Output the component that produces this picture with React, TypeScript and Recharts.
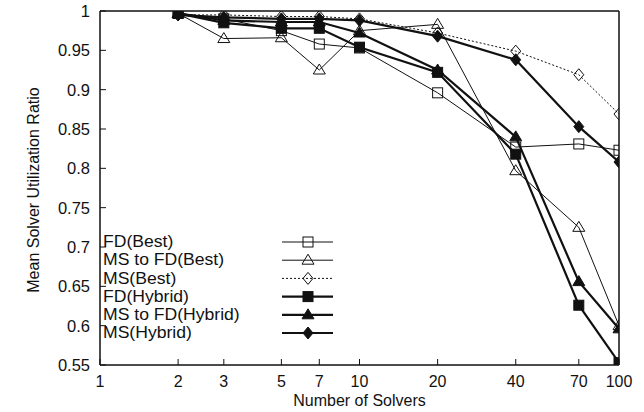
import React from 'react';
import { LineChart, Line, XAxis, YAxis, ReferenceArea } from 'recharts';

// ---- data ----
const solvers = [2, 3, 5, 7, 10, 20, 40, 70, 100];
const fdBest = [0.997, 0.99, 0.975, 0.958, 0.953, 0.896, 0.827, 0.831, 0.823];
const msToFdBest = [0.997, 0.965, 0.966, 0.925, 0.975, 0.983, 0.797, 0.725, 0.6];
const msBest = [0.995, 0.995, 0.993, 0.993, 0.99, 0.972, 0.949, 0.919, 0.869];
const fdHybrid = [0.997, 0.985, 0.978, 0.978, 0.954, 0.922, 0.818, 0.626, 0.553];
const msToFdHybrid = [0.997, 0.988, 0.986, 0.986, 0.972, 0.925, 0.84, 0.656, 0.596];
const msHybrid = [0.995, 0.992, 0.99, 0.99, 0.988, 0.968, 0.938, 0.853, 0.808];

const xTicks = [1, 2, 3, 5, 7, 10, 20, 40, 70, 100];
const yTicks = [0.55, 0.6, 0.65, 0.7, 0.75, 0.8, 0.85, 0.9, 0.95, 1];

const seriesNames = [
  'FD(Best)',
  'MS to FD(Best)',
  'MS(Best)',
  'FD(Hybrid)',
  'MS to FD(Hybrid)',
  'MS(Hybrid)',
];

const data = solvers.map((n, i) => ({
  n,
  fdBest: fdBest[i],
  msToFdBest: msToFdBest[i],
  msBest: msBest[i],
  fdHybrid: fdHybrid[i],
  msToFdHybrid: msToFdHybrid[i],
  msHybrid: msHybrid[i],
}));

const INK = '#111';

const series = [
  { key: 'fdBest', name: seriesNames[0], shape: 'square', filled: false, width: 1, dash: undefined as string | undefined },
  { key: 'msToFdBest', name: seriesNames[1], shape: 'triangle', filled: false, width: 1, dash: undefined },
  { key: 'msBest', name: seriesNames[2], shape: 'diamond', filled: false, width: 1, dash: '2 2' },
  { key: 'fdHybrid', name: seriesNames[3], shape: 'square', filled: true, width: 2.2, dash: undefined },
  { key: 'msToFdHybrid', name: seriesNames[4], shape: 'triangle', filled: true, width: 2.2, dash: undefined },
  { key: 'msHybrid', name: seriesNames[5], shape: 'diamond', filled: true, width: 2.2, dash: undefined },
];

function marker(shape: string, filled: boolean, cx: number, cy: number, key?: string) {
  const s = 5;
  const common = { stroke: INK, strokeWidth: 1, fill: filled ? INK : 'none' };
  if (cx == null || cy == null || isNaN(cx) || isNaN(cy)) return <g key={key} />;
  if (shape === 'square') {
    return <rect key={key} x={cx - s} y={cy - s} width={2 * s} height={2 * s} {...common} />;
  }
  if (shape === 'triangle') {
    return (
      <polygon
        key={key}
        points={`${cx},${cy - s - 1} ${cx - s - 1},${cy + s - 1} ${cx + s + 1},${cy + s - 1}`}
        {...common}
      />
    );
  }
  return (
    <polygon
      key={key}
      points={`${cx},${cy - s - 1} ${cx + s},${cy} ${cx},${cy + s + 1} ${cx - s},${cy}`}
      {...common}
    />
  );
}

const FONT = '"Liberation Sans", Arial, sans-serif';

function LegendBox() {
  const rowH = 18.2;
  return (
    <svg width={260} height={120} style={{ position: 'absolute', left: 100, top: 232, overflow: 'visible' }}>
      {series.map((s, i) => {
        const y = 10 + i * rowH;
        return (
          <g key={s.key}>
            <text
              transform={`translate(3, ${y}) scale(1.1, 1)`}
              dominantBaseline="central"
              fontFamily={FONT}
              fontSize={16}
              fill={INK}
            >
              {s.name}
            </text>
            <line
              x1={182}
              x2={233}
              y1={y}
              y2={y}
              stroke={INK}
              strokeWidth={s.width}
              strokeDasharray={s.dash}
            />
            {marker(s.shape, s.filled, 208, y)}
          </g>
        );
      })}
    </svg>
  );
}

function YTitle(props: any) {
  const cx = 33;
  const cy = 190;
  return (
    <text
      x={cx}
      y={cy}
      transform={`rotate(-90, ${cx}, ${cy})`}
      textAnchor="middle"
      dominantBaseline="central"
      fontFamily={FONT}
      fontSize={16}
      fill={INK}
    >
      Mean Solver Utilization Ratio
    </text>
  );
}

function XTitle(props: any) {
  return (
    <text
      x={359.5}
      y={400}
      textAnchor="middle"
      dominantBaseline="central"
      fontFamily={FONT}
      fontSize={16}
      fill={INK}
    >
      Number of Solvers
    </text>
  );
}

export default function App() {
  const xTickStyle = { fontFamily: FONT, fontSize: 16, fill: INK };
  const yTickStyle = { fontFamily: FONT, fontSize: 16.5, fill: INK };
  return (
    <div style={{ position: 'absolute', left: 0, top: 0, width: 644, height: 412, background: '#fff' }}>
      <LineChart width={644} height={412} data={data} margin={{ top: 10, right: 24, bottom: 0, left: 0 }}>
        <XAxis
          dataKey="n"
          type="number"
          scale="log"
          domain={[1, 100]}
          ticks={xTicks}
          allowDataOverflow
          height={47}
          tickSize={-6}
          tickMargin={17}
          tick={xTickStyle}
          stroke={INK}
          interval={0}
          label={<XTitle />}
        />
        <XAxis
          xAxisId="top"
          dataKey="n"
          type="number"
          scale="log"
          domain={[1, 100]}
          ticks={xTicks}
          allowDataOverflow
          orientation="top"
          height={1}
          tickSize={-6}
          tick={false}
          stroke={INK}
          interval={0}
        />
        <YAxis
          type="number"
          domain={[0.55, 1]}
          ticks={yTicks}
          allowDataOverflow
          width={100}
          tickSize={-6}
          tickMargin={16}
          tick={yTickStyle}
          stroke={INK}
          interval={0}
          tickFormatter={(v: number) => String(v)}
          label={<YTitle />}
        />
        <YAxis
          yAxisId="right"
          type="number"
          domain={[0.55, 1]}
          ticks={yTicks}
          allowDataOverflow
          orientation="right"
          width={1}
          tickSize={-6}
          tick={false}
          stroke={INK}
          interval={0}
        />
        <ReferenceArea
          x1={1}
          x2={100}
          y1={0.55}
          y2={1}
          fill="none"
          stroke={INK}
          strokeWidth={1}
          ifOverflow="visible"
        />
        {series.map((s) => (
          <Line
            key={s.key}
            dataKey={s.key}
            name={s.name}
            type="linear"
            stroke={INK}
            strokeWidth={s.width}
            strokeDasharray={s.dash}
            isAnimationActive={false}
            dot={(p: any) => marker(s.shape, s.filled, p.cx, p.cy, `${s.key}-${p.index}`)}
            activeDot={false}
          />
        ))}
      </LineChart>
      <LegendBox />
    </div>
  );
}
